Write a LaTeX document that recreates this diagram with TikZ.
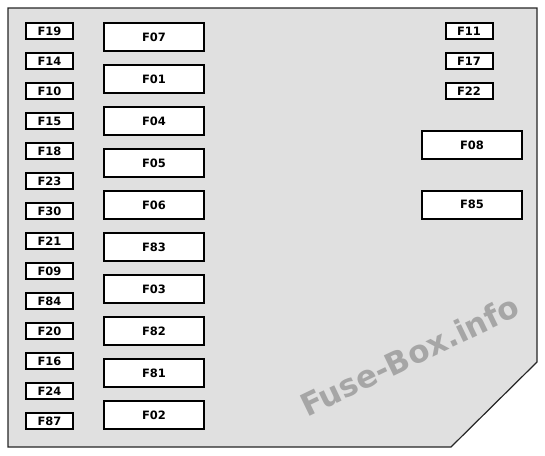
\documentclass[tikz,border=0pt]{standalone}
\usepackage{fontspec}
\usepackage{tikz}
\newfontfamily\fusefont{DejaVu Sans}
\definecolor{boxgray}{HTML}{E0E0E0}
\definecolor{markgray}{HTML}{A6A6A6}

\begin{document}
\begin{tikzpicture}[
    x=1pt, y=-1pt,
    fuse/.style={draw, line width=2pt, fill=white, inner sep=0pt,
                 font=\fusefont\bfseries\fontsize{11.5}{13}\selectfont},
    mini/.style={fuse, minimum width=47pt, minimum height=16pt},
    maxi/.style={fuse, minimum width=100pt, minimum height=28pt}
  ]
  \useasboundingbox (0,0) rectangle (545,455);

  % Housing
  \filldraw[fill=boxgray, draw=black!85, line width=1.2pt]
    (8,8) -- (537,8) -- (537,362) -- (451,447) -- (8,447) -- cycle;

  % Watermark
  \node[font=\fusefont\bfseries\fontsize{31}{36}\selectfont, markgray,
        rotate=25.7, anchor=base west, inner sep=0pt] (mark) at (307,418) {Fuse-Box.info};

  % Left column, small fuses
  \node[mini] (F19) at (49.5,31)  {F19};
  \node[mini] (F14) at (49.5,61)  {F14};
  \node[mini] (F10) at (49.5,91)  {F10};
  \node[mini] (F15) at (49.5,121) {F15};
  \node[mini] (F18) at (49.5,151) {F18};
  \node[mini] (F23) at (49.5,181) {F23};
  \node[mini] (F30) at (49.5,211) {F30};
  \node[mini] (F21) at (49.5,241) {F21};
  \node[mini] (F09) at (49.5,271) {F09};
  \node[mini] (F84) at (49.5,301) {F84};
  \node[mini] (F20) at (49.5,331) {F20};
  \node[mini] (F16) at (49.5,361) {F16};
  \node[mini] (F24) at (49.5,391) {F24};
  \node[mini] (F87) at (49.5,421) {F87};

  % Middle column, large fuses
  \node[maxi] (F07) at (154,37)  {F07};
  \node[maxi] (F01) at (154,79)  {F01};
  \node[maxi] (F04) at (154,121) {F04};
  \node[maxi] (F05) at (154,163) {F05};
  \node[maxi] (F06) at (154,205) {F06};
  \node[maxi] (F83) at (154,247) {F83};
  \node[maxi] (F03) at (154,289) {F03};
  \node[maxi] (F82) at (154,331) {F82};
  \node[maxi] (F81) at (154,373) {F81};
  \node[maxi] (F02) at (154,415) {F02};

  % Right side
  \node[mini] (F11) at (469,31) {F11};
  \node[mini] (F17) at (469,61) {F17};
  \node[mini] (F22) at (469,91) {F22};
  \node[maxi] (F08) at (472,145)   {F08};
  \node[maxi] (F85) at (472,204.5) {F85};
\end{tikzpicture}
\end{document}
